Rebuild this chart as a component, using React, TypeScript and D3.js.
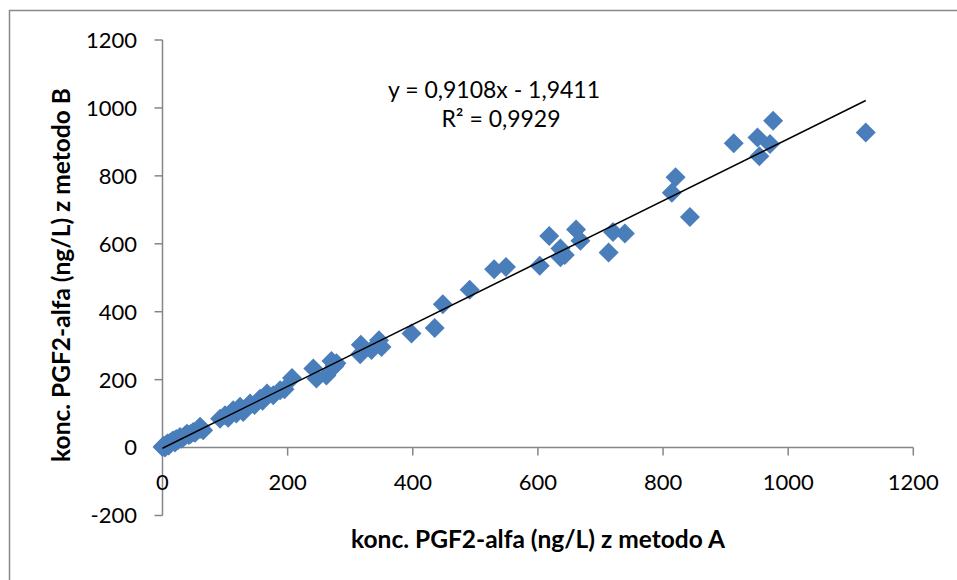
import React from "react";
import * as d3 from "d3";

const xA = [0, 2, 4, 6, 8, 10, 12, 15, 17, 20, 22, 25, 28, 30, 33, 36, 39, 42, 45, 49, 52, 55, 60, 60, 65,
  92, 100, 105, 113, 118, 124, 129, 135, 140, 147, 156, 160, 167, 177, 188, 195, 207,
  241, 246, 262, 270, 275, 278, 316, 317, 334, 346, 350, 398, 435, 448, 491, 530, 549,
  603, 618, 636, 643, 636, 661, 668, 713, 720, 739, 814, 820, 843, 913, 951, 954, 971, 976, 1124];
const yB = [2, 5, 0, 8, 12, 6, 14, 18, 21, 15, 25, 22, 31, 26, 30, 35, 41, 37, 40, 46, 44, 50, 55, 61, 51,
  85, 95, 88, 110, 100, 120, 105, 118, 130, 125, 144, 138, 159, 154, 169, 172, 205,
  233, 203, 212, 255, 240, 248, 275, 303, 287, 316, 296, 336, 352, 422, 465, 525, 532,
  535, 623, 586, 567, 560, 642, 609, 574, 635, 630, 750, 796, 679, 896, 913, 858, 894, 962, 928];

const xTicks = [0, 200, 400, 600, 800, 1000, 1200];
const yTicks = [-200, 0, 200, 400, 600, 800, 1000, 1200];
const slope = 0.9108;
const intercept = -1.9411;
const eqText = "y = 0,9108x - 1,9411";
const r2Text = "R² = 0,9929";
const xTitle = "konc. PGF2-alfa (ng/L) z metodo A";
const yTitle = "konc. PGF2-alfa (ng/L) z metodo B";

export default function App() {
  const W = 957, H = 580;
  const x = d3.scaleLinear().domain([0, 1200]).range([162.5, 913.3]);
  const y = d3.scaleLinear().domain([-200, 1200]).range([515.5, 40]);
  const axisColor = "#868686";
  const font = "Lato, 'Open Sans', sans-serif";
  const xMin = d3.min(xA) as number;
  const xMax = d3.max(xA) as number;
  const s = 10;
  const diamond = (cx: number, cy: number) =>
    `M${cx},${cy - s}L${cx + s},${cy}L${cx},${cy + s}L${cx - s},${cy}Z`;
  return (
    <svg width={W} height={H} style={{ position: "absolute", left: 0, top: 0, background: "#fff" }}>
      <rect x={9.5} y={10.5} width={1000} height={1000} fill="#fff" stroke="#898989" strokeWidth={1.5} />
      {/* y axis */}
      <line x1={x(0)} x2={x(0)} y1={y(-200)} y2={y(1200)} stroke={axisColor} strokeWidth={1.5} />
      {yTicks.map((t) => (
        <g key={"y" + t}>
          <line x1={x(0) - 8} x2={x(0)} y1={y(t)} y2={y(t)} stroke={axisColor} strokeWidth={1.5} />
          <text x={137} y={y(t)} dy="0.36em" textAnchor="end" fontFamily={font} fontSize={22} fill="#000">
            {t}
          </text>
        </g>
      ))}
      {/* x axis */}
      <line x1={x(0)} x2={x(1200)} y1={y(0)} y2={y(0)} stroke={axisColor} strokeWidth={1.5} />
      {xTicks.map((t) => (
        <g key={"x" + t}>
          <line x1={x(t)} x2={x(t)} y1={y(0)} y2={y(0) + 8} stroke={axisColor} strokeWidth={1.5} />
          <text x={x(t)} y={490} textAnchor="middle" fontFamily={font} fontSize={22} fill="#000">
            {t}
          </text>
        </g>
      ))}
      {/* points */}
      {xA.map((v, i) => (
        <path key={"p" + i} d={diamond(x(v), y(yB[i]))} fill="#4A7EBB" />
      ))}
      {/* trend line */}
      <line
        x1={x(xMin)}
        y1={y(slope * xMin + intercept)}
        x2={x(xMax)}
        y2={y(slope * xMax + intercept)}
        stroke="#000"
        strokeWidth={1.5}
      />
      <text x={494} y={98} textAnchor="middle" fontFamily={font} fontSize={23} fill="#000">{eqText}</text>
      <text x={501} y={127} textAnchor="middle" fontFamily={font} fontSize={23} fill="#000">{r2Text}</text>
      <text x={538} y={548} textAnchor="middle" fontFamily={font} fontSize={24.5} fontWeight="bold" fill="#000">
        {xTitle}
      </text>
      <text
        transform={`translate(70,275) rotate(-90)`}
        textAnchor="middle"
        fontFamily={font}
        fontSize={24.5}
        fontWeight="bold"
        fill="#000"
      >
        {yTitle}
      </text>
    </svg>
  );
}
